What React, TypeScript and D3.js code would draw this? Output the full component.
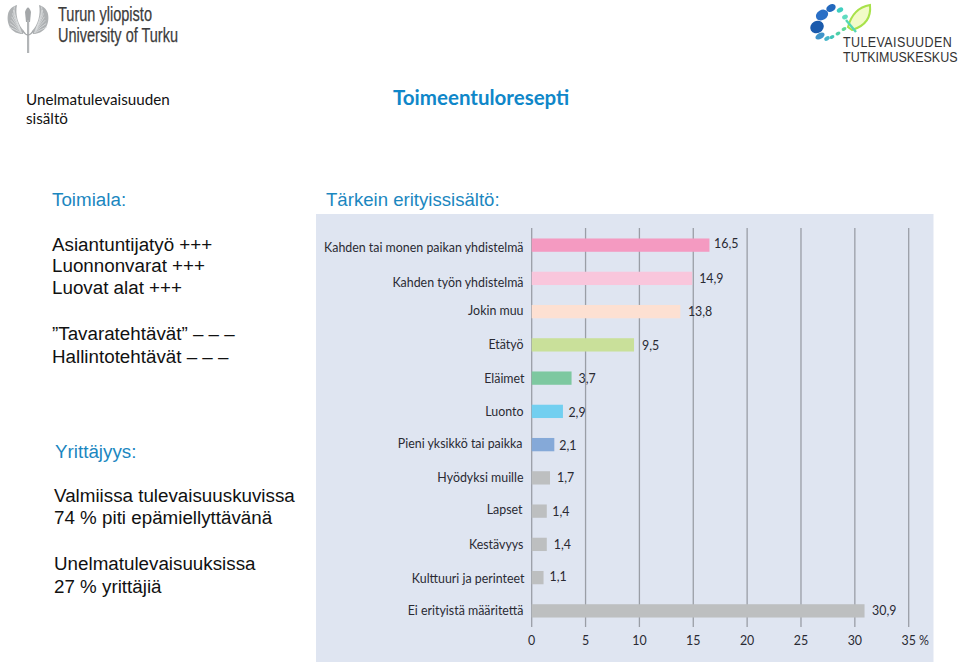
import React from "react";
import * as d3 from "d3";

const categories = [
  "Kahden tai monen paikan yhdistelmä",
  "Kahden työn yhdistelmä",
  "Jokin muu",
  "Etätyö",
  "Eläimet",
  "Luonto",
  "Pieni yksikkö tai paikka",
  "Hyödyksi muille",
  "Lapset",
  "Kestävyys",
  "Kulttuuri ja perinteet",
  "Ei erityistä määritettä",
];
const values = [16.5, 14.9, 13.8, 9.5, 3.7, 2.9, 2.1, 1.7, 1.4, 1.4, 1.1, 30.9];
const valueLabels = ["16,5", "14,9", "13,8", "9,5", "3,7", "2,9", "2,1", "1,7", "1,4", "1,4", "1,1", "30,9"];
const barColors = ["#f49ac1", "#f9c6dc", "#fde0d2", "#c9e09a", "#7dc8a0", "#72cff0", "#85a9d8", "#bdbfc0", "#bdbfc0", "#bdbfc0", "#bdbfc0", "#bdbfc0"];
const xTicks = [0, 5, 10, 15, 20, 25, 30, 35];

// Hand-set label nudges seen in the reference (label layout, not data)
const catNudgeY = [2, 3.7, -0.7, 0, 0.5, 0, -1.5, 0, -2, 0, 1, 0];
const catNudgeX = [0, 0, 0, 0, 1, 0, -1, 0, -1, 0, 1, 0];
const valNudgeX = [4.6, 7, 7.6, 8, 7, 5.5, 5, 7, 5.5, 7, 6, 7.5];
const valNudgeY = [-1.4, 0, 0, 0.7, 0, 1, 1, 0, 0.7, 0, -1.5, 0];

const leftTop = ["Asiantuntijatyö +++", "Luonnonvarat +++", "Luovat alat +++"];

const x = d3.scaleLinear().domain([0, 35]).range([531.7, 908.7]);
const y = d3.scaleBand<string>().domain(categories).range([228.5, 627.5]).paddingInner(0.6).paddingOuter(0.3);
const barY = (c: string) => y(c)! + y.bandwidth() / 2;

const chartFont = "Lato, 'Open Sans', sans-serif";
const arial = "'Liberation Sans', Arial, sans-serif";
const calibri = "Lato, 'Open Sans', sans-serif";
const narrow = "'Liberation Sans Narrow', 'Liberation Sans', sans-serif";

const wingStripes = d3.range(0, 7);
const dots: [number, number, number, number, string][] = [
  [822, 15, 6.5, 5, "#2a6fc6"],
  [831, 8, 5, 3.6, "#2368bd"],
  [817, 27, 7, 6, "#1a5aac"],
  [820, 36, 5, 3, "#3f93c9"],
  [827, 38.5, 3, 2, "#45b5c9"],
  [832, 37, 2.6, 1.7, "#40c4b8"],
  [838, 33.5, 2.6, 1.7, "#4fd0a8"],
  [844, 29, 2.6, 1.7, "#60d898"],
  [840, 10, 3.4, 2.4, "#3fcfc0"],
  [845, 17, 3, 2.2, "#5fdcc0"],
];

function TurkuLogo() {
  return (
    <g>
      {[-1, 1].map((s) => (
        <g key={s} transform={`translate(28 0) scale(${s} 1) translate(-28 0)`}>
          <path d="M23 34C12 34 6 25 8 14C9 9 13 6 17 5C15 14 18 25 24 31Z" fill="#aeb1b3" />
          {wingStripes.map((i) => (
            <path key={i} d={`M${22 - i * 0.4} ${33 - i * 0.8}Q${14 - i * 0.2} ${29 - i * 3} ${9 + i * 0.9} ${27 - i * 3.4}`} fill="none" stroke="#dcdedf" strokeWidth={0.8} />
          ))}
        </g>
      ))}
      <path d="M25 12Q28 3 31 12L30 22L26 22Z" fill="#a4a7a9" />
      <rect x={27} y={20} width={2.2} height={33} fill="#b2b5b7" />
      <path d="M23 31Q28 39 33 31" fill="none" stroke="#a4a7a9" strokeWidth={1.4} />
      <text x={58} y={21} fontFamily={narrow} fontSize={21} fill="#3c3c3c" stroke="#3c3c3c" strokeWidth={0.25} textLength={94} lengthAdjust="spacingAndGlyphs">Turun yliopisto</text>
      <text x={58} y={42} fontFamily={narrow} fontSize={21} fill="#3c3c3c" stroke="#3c3c3c" strokeWidth={0.25} textLength={120} lengthAdjust="spacingAndGlyphs">University of Turku</text>
    </g>
  );
}

function FutureLogo() {
  return (
    <g>
      <path d="M848 27Q853 8 870 5Q872 24 852 30Z" fill="#f2fbc8" stroke="#a8e24a" strokeWidth={2} />
      <path d="M846 20L856 32" fill="none" stroke="#55d7b5" strokeWidth={2.4} />
      {dots.map(([cx, cy, rx, ry, fill], i) => (
        <ellipse key={i} cx={cx} cy={cy} rx={rx} ry={ry} fill={fill} transform={`rotate(-30 ${cx} ${cy})`} />
      ))}
      <text transform="translate(843 46.5) scale(1 1.2)" fontFamily={arial} fontSize={12.5} letterSpacing={0.4} fill="#333">TULEVAISUUDEN</text>
      <text transform="translate(843 62) scale(1 1.2)" fontFamily={arial} fontSize={12.5} fill="#333">TUTKIMUSKESKUS</text>
    </g>
  );
}

export default function App() {
  return (
    <svg width={959} height={666} viewBox="0 0 959 666" style={{ position: "fixed", left: 0, top: 0, background: "#fff" }}>
      <TurkuLogo />
      <FutureLogo />

      <text x={26} y={105} fontFamily={calibri} fontSize={15.2} fill="#111">Unelmatulevaisuuden</text>
      <text x={26} y={124} fontFamily={calibri} fontSize={15.2} fill="#111">sisältö</text>
      <text x={393} y={105} fontFamily={calibri} fontSize={20.5} fontWeight={700} fill="#0f87c9">Toimeentuloresepti</text>

      <text x={52} y={206} fontFamily={arial} fontSize={18.8} fill="#1b87bf">Toimiala:</text>
      <text x={326} y={205.5} fontFamily={arial} fontSize={18.6} fill="#1b87bf">Tärkein erityissisältö:</text>

      {leftTop.map((t, i) => (
        <text key={t} x={52} y={250.5 + i * 21.5} fontFamily={arial} fontSize={18.8} fill="#111">{t}</text>
      ))}
      <text x={52} y={340} fontFamily={arial} fontSize={18.8} fill="#111">”Tavaratehtävät” – – –</text>
      <text x={52} y={362.5} fontFamily={arial} fontSize={18.8} fill="#111">Hallintotehtävät – – –</text>

      <text x={55} y={458} fontFamily={arial} fontSize={18.8} fill="#1b87bf">Yrittäjyys:</text>
      <text x={54} y={501.5} fontFamily={arial} fontSize={18.8} fill="#111">Valmiissa tulevaisuuskuvissa</text>
      <text x={54} y={524} fontFamily={arial} fontSize={18.8} fill="#111">74 % piti epämiellyttävänä</text>
      <text x={54} y={570} fontFamily={arial} fontSize={18.8} fill="#111">Unelmatulevaisuuksissa</text>
      <text x={54} y={592.5} fontFamily={arial} fontSize={18.8} fill="#111">27 % yrittäjiä</text>

      <rect x={316} y={214} width={617.5} height={448} fill="#dfe5f1" />

      {xTicks.map((t) => (
        <line key={t} x1={x(t)} x2={x(t)} y1={228} y2={627} stroke="#9a9ea6" strokeWidth={1.3} />
      ))}

      {categories.map((c, i) => (
        <g key={c}>
          <rect x={x(0)} y={y(c)} width={x(values[i]) - x(0)} height={y.bandwidth()} fill={barColors[i]} />
          <text x={523.5 + catNudgeX[i]} y={barY(c) + catNudgeY[i]} dy="0.36em" textAnchor="end" fontFamily={chartFont} fontSize={12.4} fill="#2a2a33">{c}</text>
          <text x={x(values[i]) + valNudgeX[i]} y={barY(c) + valNudgeY[i]} dy="0.36em" fontFamily={chartFont} fontSize={12.4} fill="#2a2a33">{valueLabels[i]}</text>
        </g>
      ))}

      {xTicks.map((t) => (
        <text key={t} x={t === 35 ? x(t) + 6.5 : x(t)} y={644.5} textAnchor="middle" fontFamily={chartFont} fontSize={12.4} fill="#2a2a33">
          {t === 35 ? "35 %" : t}
        </text>
      ))}
    </svg>
  );
}
